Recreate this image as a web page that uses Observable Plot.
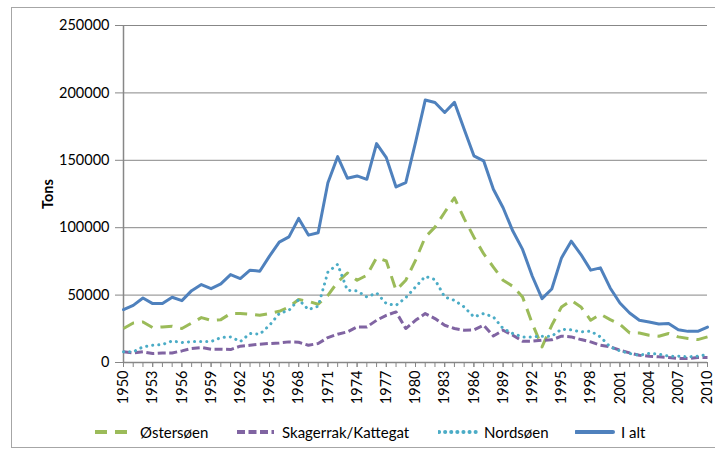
<!DOCTYPE html>
<html>
<head>
<meta charset="utf-8">
<script src="https://cdn.jsdelivr.net/npm/d3@7"></script>
<script src="https://cdn.jsdelivr.net/npm/@observablehq/plot@0.6"></script>
<style>
  html, body { margin: 0; padding: 0; background: #fff; }
  body { width: 715px; height: 457px; position: relative; overflow: hidden; font-family: Lato, "Open Sans", sans-serif; }
  #frame { position: absolute; left: 11px; top: 7px; width: 710px; height: 441px; border: 1px solid #a6a6a6; box-sizing: border-box; }
  #chart { position: absolute; left: 0; top: 0; }
  #chart [aria-label="y-axis label"] { font-weight: bold; }
  .leg { position: absolute; top: 421px; height: 22px; display: flex; align-items: center; font-size: 15px; color: #000; white-space: nowrap; }
  .leg svg { margin-right: 6px; }
</style>
</head>
<body>
<div id="frame"></div>
<div id="chart"></div>
<div id="legend"></div>
<script>
const startYear = 1950;
const seriesNames = ["Østersøen", "Skagerrak/Kattegat", "Nordsøen", "I alt"];
const yTicks = [0, 50000, 100000, 150000, 200000, 250000];
const labelYears = [1950,1953,1956,1959,1962,1965,1968,1971,1974,1977,1980,1983,1986,1989,1992,1995,1998,2001,2004,2007,2010];

const ostersoen = [25200,29300,30100,25900,26400,26900,25200,29300,33300,31300,
  31800,36300,36300,35800,35000,36300,38000,41200,46700,45400,
  43200,49800,59700,66400,61000,64700,77800,75300,53600,61000,
  75800,93000,100400,111500,122200,106700,93000,80700,70800,61000,
  56500,48600,28900,11600,27600,41200,46100,41200,31300,35800,
  31800,28400,21900,21900,20200,19500,21500,19000,17800,17000,19000];
const skagerrak = [7900,7100,7900,6700,7100,7100,8600,10400,11100,9900,
  9900,9600,12100,12800,13600,14100,14500,15300,15000,12800,
  14100,18500,21000,22700,26400,26400,31300,35000,37500,25200,
  31300,36300,32600,27600,25200,23900,24200,27600,19700,23900,
  20200,15800,15800,16500,16800,19500,19000,17000,15300,12800,
  11600,9100,7100,5400,4700,4200,3700,3000,3000,3700,3700];
const nordsoen = [7900,7900,11600,12800,13300,16000,14800,15500,15500,15500,
  18500,19000,15500,21500,21000,27600,36300,38700,46700,39200,
  41700,67100,72800,53600,53100,48600,51600,43700,42400,48100,
  56000,63900,61500,48600,46100,41200,33800,36300,33800,25200,
  21500,19000,19000,19500,19500,24700,24200,22700,23200,19000,
  11600,8600,6700,5400,6700,6200,4700,4700,4200,4700,6000];
const ialt = [39200,42400,47800,43700,43700,48400,45900,53300,57800,54800,
  58300,65200,62300,68500,67700,78900,89300,93200,106900,94500,
  96200,133400,152700,136700,138400,135900,162400,152000,130200,133400,
  163200,194700,192900,185500,193000,173100,153300,149600,128500,114800,
  97500,83900,64000,47400,54500,77600,90000,80100,68500,70200,
  55300,44100,36700,31300,30000,28500,29000,24300,23100,23100,26300];

const years = ialt.map((_, i) => startYear + i);
const styles = [
  {stroke: "#9bbb59", dash: "12,8", cap: "butt"},
  {stroke: "#8064a2", dash: "8,3.5", cap: "butt"},
  {stroke: "#4bacc6", dash: "0.1,6", cap: "round"},
  {stroke: "#4f81bd", dash: null, cap: "round"}
];
const allSeries = [ostersoen, skagerrak, nordsoen, ialt];
const table = (vals) => vals.map((v, i) => ({year: years[i], value: v}));

const gray = "#878787";
const chart = Plot.plot({
  width: 715,
  height: 415,
  marginLeft: 123,
  marginRight: 8,
  marginTop: 25,
  marginBottom: 53,
  x: {domain: [1950, 2010]},
  y: {domain: [0, 250000]},
  style: {fontFamily: "Lato, 'Open Sans', sans-serif", fontSize: "14.5px", color: "#000", background: "transparent"},
  marks: [
    Plot.gridY(yTicks, {stroke: gray, strokeOpacity: 1, strokeWidth: 1}),
    Plot.axisY(yTicks, {tickSize: 8, tickPadding: 6, stroke: gray, fill: "#000", tickFormat: d => String(d),
      label: "Tons", labelAnchor: "center", labelArrow: "none", labelOffset: 81}),
    Plot.ruleX([1950], {stroke: gray, strokeWidth: 1.5}),
    Plot.ruleY([0], {stroke: gray, strokeWidth: 1.5}),
    Plot.axisX(years, {tickSize: 5, stroke: gray, tickFormat: () => "", label: null}),
    Plot.axisX(labelYears, {tickSize: 5, stroke: gray, tickRotate: -90, tickPadding: 3, fill: "#000",
      tickFormat: d => String(d), label: null}),
    ...allSeries.map((vals, k) => Plot.line(table(vals), {
      x: "year", y: "value",
      stroke: styles[k].stroke, strokeWidth: 3,
      strokeDasharray: styles[k].dash,
      strokeLinecap: styles[k].cap,
      strokeLinejoin: "round"
    }))
  ]
});
document.getElementById("chart").appendChild(chart);

// Legend
const legendX = [94, 236, 438, 575];
const legend = document.getElementById("legend");
seriesNames.forEach((name, k) => {
  const div = document.createElement("div");
  div.className = "leg";
  div.style.left = legendX[k] + "px";
  const w = 38;
  const s = styles[k];
  div.innerHTML = `<svg width="${w + 2}" height="10"><line x1="1" y1="5" x2="${w}" y2="5" stroke="${s.stroke}" stroke-width="4" ${s.dash ? `stroke-dasharray="${k === 2 ? '0.1,6' : s.dash}"` : ""} stroke-linecap="${s.cap}"/></svg><span>${name}</span>`;
  legend.appendChild(div);
});
</script>
</body>
</html>
